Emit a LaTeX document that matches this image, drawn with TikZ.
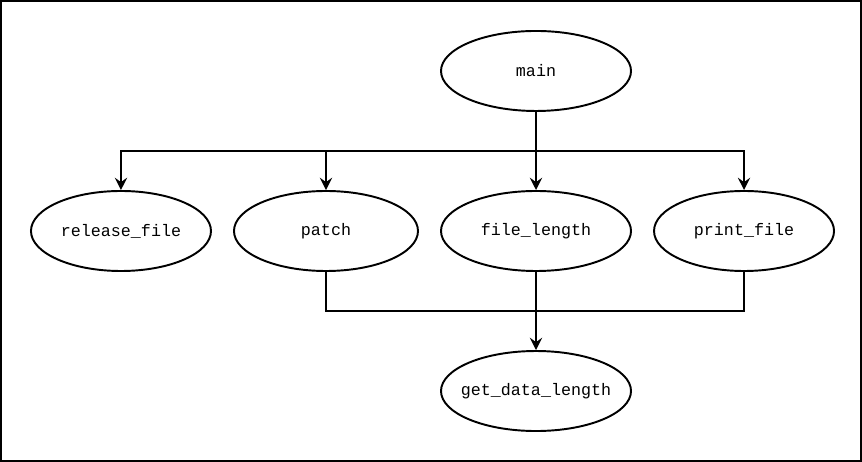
\documentclass[tikz,border=0pt]{standalone}
\usepackage{fontspec}
\setmonofont{Liberation Mono}
\usetikzlibrary{shapes.geometric,arrows.meta}

\tikzset{
  func/.style={ellipse,draw,line width=1.1pt,inner sep=0pt,
               minimum height=80*0.02cm,
               font=\fontsize{9.5}{11}\selectfont\ttfamily},
  call/.style={line width=1.1pt},
  callarrow/.style={call,-{Stealth[length=7pt,width=7pt,inset=2.5pt]}}
}

\begin{document}
\begin{tikzpicture}[x=0.02cm,y=-0.02cm]

  % ── FRAME ──────────────────────────────────────────────────────────────────
  \draw[line width=1.1pt] (1,1) rectangle (861,461);

  % ── FUNCTIONS ──────────────────────────────────────────────────────────────
  \node[func,minimum width=190*0.02cm] (main)     at (536,71)  {main};
  \node[func,minimum width=180*0.02cm] (release)  at (121,231) {release\_file};
  \node[func,minimum width=184*0.02cm] (patch)    at (326,231) {patch};
  \node[func,minimum width=190*0.02cm] (flength)  at (536,231) {file\_length};
  \node[func,minimum width=180*0.02cm] (print)    at (744,231) {print\_file};
  \node[func,minimum width=190*0.02cm,inner xsep=-8pt] (getdata) at (536,391) {get\_data\_length};

  % branch points
  \coordinate (split) at (536,151);
  \coordinate (join)  at (536,311);

  % ── CALLS FROM main ────────────────────────────────────────────────────────
  \draw[callarrow] (main.south) -- (flength.north);
  \draw[callarrow] (split) -| (release.north);
  \draw[callarrow] (split) -| (patch.north);
  \draw[callarrow] (split) -| (print.north);

  % ── CALLS TO get_data_length ───────────────────────────────────────────────
  \draw[call] (patch.south) |- (join);
  \draw[call] (print.south) |- (join);
  \draw[callarrow] (flength.south) -- (getdata.north);

\end{tikzpicture}
\end{document}
